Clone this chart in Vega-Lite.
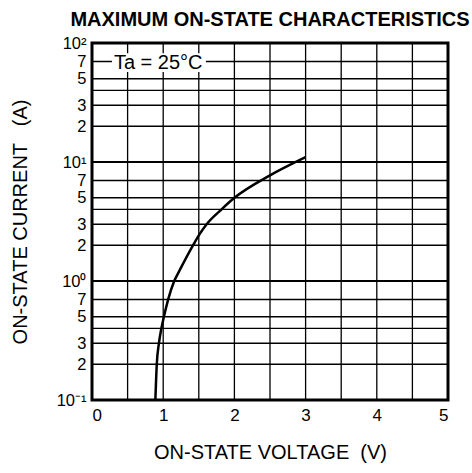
{
  "$schema": "https://vega.github.io/schema/vega-lite/v6.json",
  "autosize": {"type": "none"},
  "padding": {"left": 92, "top": 43, "right": 24, "bottom": 73},
  "width": 356,
  "height": 357,
  "background": "white",
  "config": {
    "font": "Liberation Sans",
    "view": {"stroke": "black", "strokeWidth": 3}
  },
  "title": {
    "text": "MAXIMUM ON-STATE CHARACTERISTICS",
    "font": "Liberation Sans",
    "fontSize": 20,
    "fontWeight": "bold",
    "anchor": "middle",
    "offset": 5,
    "color": "black"
  },
  "datasets": {
    "curve": [
      {"v": 0.89, "i": 0.1},
      {"v": 0.91, "i": 0.2},
      {"v": 0.94, "i": 0.3},
      {"v": 0.975, "i": 0.4},
      {"v": 1.01, "i": 0.5},
      {"v": 1.07, "i": 0.7},
      {"v": 1.155, "i": 1.0},
      {"v": 1.225, "i": 1.21},
      {"v": 1.42, "i": 2.0},
      {"v": 1.5, "i": 2.42},
      {"v": 1.61, "i": 3.0},
      {"v": 1.82, "i": 4.0},
      {"v": 2.0, "i": 5.0},
      {"v": 2.5, "i": 7.73},
      {"v": 3.0, "i": 11.0}
    ],
    "vgrid": [
      {"v": 0.5}, {"v": 1}, {"v": 1.5}, {"v": 2}, {"v": 2.5}, {"v": 3}, {"v": 3.5}, {"v": 4}, {"v": 4.5}
    ],
    "hgridMinor": [
      {"i": 0.2}, {"i": 0.3}, {"i": 0.4}, {"i": 0.5}, {"i": 0.7},
      {"i": 2}, {"i": 3}, {"i": 4}, {"i": 5}, {"i": 7},
      {"i": 20}, {"i": 30}, {"i": 40}, {"i": 50}, {"i": 70}
    ],
    "hgridMajor": [
      {"i": 1}, {"i": 10}
    ],
    "note": [
      {"v": 0.93, "i": 68, "v2": 1.6, "v1": 0.28, "i1": 57, "i2": 82, "label": "Ta = 25°C"}
    ]
  },
  "layer": [
    {
      "data": {"name": "vgrid"},
      "mark": {"type": "rule", "color": "black", "strokeWidth": 1.3},
      "encoding": {
        "x": {
          "field": "v", "type": "quantitative",
          "scale": {"domain": [0, 5], "nice": false, "zero": false},
          "axis": {
            "title": "ON-STATE VOLTAGE\u00a0\u00a0(V)",
            "titleFontSize": 20, "titleFontWeight": "normal", "titleColor": "black",
            "titlePadding": 19,
            "values": [0, 1, 2, 3, 4, 5],
            "format": "d",
            "labelFontSize": 17, "labelColor": "black", "labelPadding": 7,
            "labelOverlap": false,
            "ticks": false, "domain": false, "grid": false
          }
        }
      }
    },
    {
      "data": {"name": "hgridMinor"},
      "mark": {"type": "rule", "color": "black", "strokeWidth": 1.4},
      "encoding": {
        "y": {
          "field": "i", "type": "quantitative",
          "scale": {"type": "log", "domain": [0.1, 100], "nice": false},
          "axis": {
            "title": "ON-STATE CURRENT\u00a0\u00a0\u00a0(A)",
            "titleFontSize": 20, "titleFontWeight": "normal", "titleColor": "black",
            "titlePadding": 26,
            "values": [0.1, 0.2, 0.3, 0.5, 0.7, 1, 2, 3, 5, 7, 10, 20, 30, 50, 70, 100],
            "labelExpr": "datum.value == 0.1 ? '10⁻¹' : datum.value == 1 ? '10⁰' : datum.value == 10 ? '10¹' : datum.value == 100 ? '10²' : format(round(datum.value / pow(10, floor(log(datum.value) / LN10 + 1e-9))), 'd')",
            "labelFontSize": 16.5, "labelColor": "black", "labelPadding": 6,
            "labelOverlap": false,
            "ticks": false, "domain": false, "grid": false
          }
        }
      }
    },
    {
      "data": {"name": "hgridMajor"},
      "mark": {"type": "rule", "color": "black", "strokeWidth": 2},
      "encoding": {
        "y": {"field": "i", "type": "quantitative"}
      }
    },
    {
      "data": {"name": "note"},
      "mark": {"type": "rect", "fill": "white"},
      "encoding": {
        "x": {"field": "v1", "type": "quantitative"},
        "x2": {"field": "v2"},
        "y": {"field": "i1", "type": "quantitative"},
        "y2": {"field": "i2"}
      }
    },
    {
      "data": {"name": "note"},
      "mark": {"type": "text", "fontSize": 20, "color": "black", "align": "center", "baseline": "middle"},
      "encoding": {
        "x": {"field": "v", "type": "quantitative"},
        "y": {"field": "i", "type": "quantitative"},
        "text": {"field": "label"}
      }
    },
    {
      "data": {"name": "curve"},
      "mark": {"type": "line", "color": "black", "strokeWidth": 2.5, "interpolate": "monotone", "clip": true},
      "encoding": {
        "x": {"field": "v", "type": "quantitative"},
        "y": {"field": "i", "type": "quantitative"}
      }
    }
  ]
}
